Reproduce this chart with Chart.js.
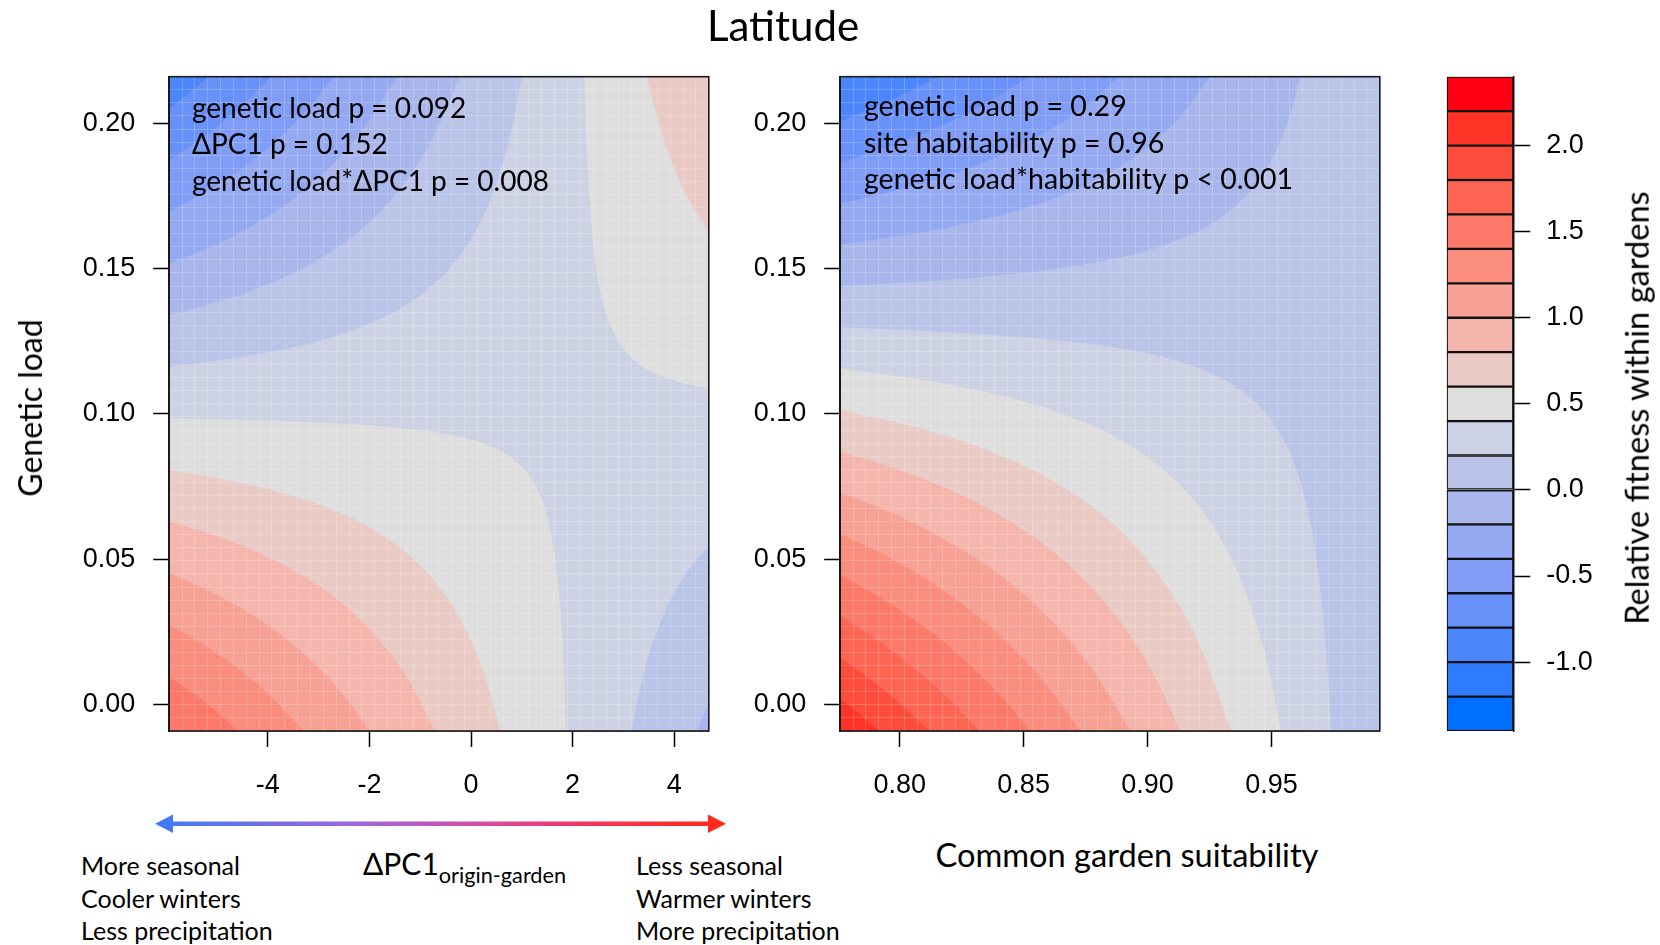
<!DOCTYPE html>
<html>
<head>
<meta charset="utf-8">
<script src="https://cdn.jsdelivr.net/npm/chart.js@4.4.1/dist/chart.umd.min.js"></script>
<style>
  body { margin: 0; background: #fff; }
  #wrap { position: relative; width: 1660px; height: 945px; overflow: hidden; font-family: Lato, "Open Sans", sans-serif; color: #000; }
  canvas { position: absolute; top: 0; }
  .t { position: absolute; white-space: nowrap; line-height: 1; }
  .c { transform: translate(-50%, -50%); }
  .r { transform: translate(-50%, -50%) rotate(-90deg); }
  .note { position: absolute; white-space: nowrap; font-size: 28px; line-height: 36.7px; }
  .side { position: absolute; white-space: nowrap; font-size: 25px; line-height: 32.5px; }
</style>
</head>
<body>
<div id="wrap">
  <canvas id="pcChart" width="740" height="800" style="left:0;width:740px;height:800px"></canvas>
  <canvas id="suitChart" width="700" height="800" style="left:720px;width:700px;height:800px"></canvas>
  <canvas id="barChart" width="240" height="800" style="left:1420px;width:240px;height:800px"></canvas>

  <div class="t c" style="left:783px;top:25px;font-size:42px">Latitude</div>
  <div class="t r" style="left:30px;top:408px;font-size:32px">Genetic load</div>
  <div class="t r" style="left:1637px;top:408px;font-size:32.6px">Relative fitness within gardens</div>
  <div class="t c" style="left:1127px;top:855px;font-size:32.6px">Common garden suitability</div>

  <div class="note" style="left:192px;top:88.6px">genetic load p = 0.092<br>ΔPC1 p = 0.152<br>genetic load*ΔPC1 p = 0.008</div>
  <div class="note" style="left:864px;top:86.8px;font-size:28.5px">genetic load p = 0.29<br>site habitability p = 0.96<br>genetic load*habitability p &lt; 0.001</div>

  <svg style="position:absolute;left:150px;top:810px" width="590" height="30">
    <defs>
      <linearGradient id="arr" gradientUnits="userSpaceOnUse" x1="5" y1="0" x2="576" y2="0">
        <stop offset="0" stop-color="#3f7cf8"/>
        <stop offset="0.35" stop-color="#9b66dc"/>
        <stop offset="0.55" stop-color="#d24fa8"/>
        <stop offset="0.8" stop-color="#fa3050"/>
        <stop offset="1" stop-color="#ff2a14"/>
      </linearGradient>
    </defs>
    <rect x="20" y="11.5" width="541" height="4.5" fill="url(#arr)"/>
    <polygon points="5,13.7 23,4.5 23,23" fill="url(#arr)"/>
    <polygon points="576,13.7 558,4.5 558,23" fill="url(#arr)"/>
  </svg>

  <div class="t" style="left:363px;top:848px;font-size:30px">ΔPC1<span style="font-size:21.7px;position:relative;top:8px">origin-garden</span></div>
  <div class="side" style="left:81px;top:849px">More seasonal<br>Cooler winters<br>Less precipitation</div>
  <div class="side" style="left:636px;top:849px">Less seasonal<br>Warmer winters<br>More precipitation</div>
</div>

<script>
// axis ranges of the two panels and the colour key
const loadRange = [-0.0092, 0.2161];
const pcRange = [-5.94, 4.68];
const suitRange = [0.776, 0.9937];

// tick labels
const pcTicks = [-4, -2, 0, 2, 4];
const suitTicks = [0.80, 0.85, 0.90, 0.95];
const loadTicks = [0, 0.05, 0.10, 0.15, 0.20];
const fitTicks = [-1.0, -0.5, 0.0, 0.5, 1.0, 1.5, 2.0];

// fitness levels of the colour key (19 bins of 0.2)
const levelBreaks = [-1.4, -1.2, -1.0, -0.8, -0.6, -0.4, -0.2, 0.0, 0.2, 0.4, 0.6,
                     0.8, 1.0, 1.2, 1.4, 1.6, 1.8, 2.0, 2.2, 2.4];
const binColors = ['#006FFF', '#2E7BFF', '#4C86FD', '#6891FA', '#7F9CF6', '#94A9F1',
                   '#A8B6EC', '#BAC4E8', '#CCD1E4', '#DEDEDE', '#EACAC5', '#F3B5AC',
                   '#F7A195', '#FA8D7E', '#FC7868', '#FD6452', '#FE4C3C', '#FF3427', '#FF0012'];

// left panel: contour lines [dPC1, genetic load]
const pcBL04 = [[-5.94,0.0985],[-4.5,0.0979],[-3,0.097],[-1.5,0.0953],[-0.5,0.0931],[0.3,0.0895],[0.9,0.0835],[1.3,0.0742],[1.55,0.0608],[1.7,0.0438],[1.78,0.0271],[1.83,0.0106],[1.87,-0.0092]];
const pcBL06 = [[-5.94,0.0807],[-4.5,0.0762],[-3,0.0689],[-2,0.061],[-1,0.0479],[-0.4,0.0349],[0,0.022],[0.3,0.0085],[0.58,-0.0092]];
const pcBL08 = [[-5.94,0.0629],[-5,0.0579],[-4,0.0507],[-3,0.0408],[-2.3,0.0311],[-1.7,0.0199],[-1.2,0.0075],[-0.71,-0.0092]];
const pcBL10 = [[-5.94,0.0452],[-5,0.0377],[-4.2,0.0296],[-3.5,0.0206],[-2.9,0.0109],[-2.4,0.0008],[-2.0,-0.0092]];
const pcBL12 = [[-5.94,0.0274],[-5.2,0.0199],[-4.6,0.0126],[-4,0.0038],[-3.29,-0.0092]];
const pcBL14 = [[-5.94,0.0096],[-5.4,0.003],[-5.0,-0.0026],[-4.57,-0.0092]];
const pcTR04 = [[2.23,0.2161],[2.26,0.1993],[2.3,0.1833],[2.4,0.1595],[2.55,0.1418],[2.75,0.1301],[3,0.1224],[3.4,0.116],[3.9,0.112],[4.68,0.1087]];
const pcTR06 = [[3.46,0.2161],[3.7,0.1996],[4,0.1844],[4.3,0.1733],[4.68,0.1628]];
const pcTL02 = [[-5.94,0.1162],[-4,0.1211],[-2.5,0.1278],[-1.2,0.1384],[-0.4,0.1506],[0.1,0.1633],[0.45,0.1769],[0.7,0.191],[0.85,0.2022],[1.0,0.2161]];
const pcTL00 = [[-5.94,0.134],[-4.5,0.1413],[-3.2,0.1512],[-2.2,0.163],[-1.5,0.1752],[-0.9,0.1903],[-0.5,0.2043],[-0.24,0.2161]];
const pcTLm02 = [[-5.94,0.1518],[-5,0.1585],[-4,0.168],[-3.2,0.1783],[-2.6,0.1882],[-2,0.2011],[-1.47,0.2161]];
const pcTLm04 = [[-5.94,0.1695],[-5,0.1787],[-4.2,0.1886],[-3.5,0.1997],[-3.1,0.2073],[-2.71,0.2161]];
const pcTLm06 = [[-5.94,0.1873],[-5.2,0.1961],[-4.6,0.2047],[-3.94,0.2161]];
const pcTLm08 = [[-5.94,0.2051],[-5.55,0.2104],[-5.17,0.2161]];
const pcBR02 = [[3.16,-0.0092],[3.3,0.0033],[3.5,0.0168],[3.75,0.0292],[4.05,0.04],[4.35,0.048],[4.68,0.0546]];
const pcBR00 = [[4.45,-0.0092],[4.55,-0.0047],[4.68,0.0005]];

// right panel: contour lines [suitability, genetic load]
const suBL02 = [[0.776,0.1298],[0.83,0.1276],[0.88,0.1237],[0.91,0.1187],[0.935,0.1097],[0.95,0.0977],[0.96,0.0809],[0.966,0.0611],[0.97,0.0376],[0.972,0.0192],[0.9741,-0.0092]];
const suBL04 = [[0.776,0.1156],[0.82,0.1101],[0.86,0.1017],[0.89,0.0907],[0.91,0.0782],[0.925,0.0633],[0.937,0.0442],[0.945,0.0248],[0.95,0.0078],[0.9538,-0.0092]];
const suBL06 = [[0.776,0.1013],[0.81,0.0946],[0.84,0.0859],[0.865,0.0753],[0.885,0.0629],[0.9,0.0497],[0.912,0.0351],[0.922,0.0185],[0.9336,-0.0092]];
const suBL08 = [[0.776,0.0871],[0.8,0.0807],[0.83,0.0699],[0.855,0.057],[0.875,0.0424],[0.89,0.0273],[0.902,0.0111],[0.9133,-0.0092]];
const suBL10 = [[0.776,0.0729],[0.8,0.0647],[0.825,0.0534],[0.845,0.0414],[0.862,0.0281],[0.878,0.0117],[0.8931,-0.0092]];
const suBL12 = [[0.776,0.0587],[0.795,0.0509],[0.815,0.0408],[0.833,0.0293],[0.85,0.0157],[0.862,0.0038],[0.8728,-0.0092]];
const suBL14 = [[0.776,0.0445],[0.795,0.0352],[0.812,0.0252],[0.828,0.0138],[0.842,0.0017],[0.8525,-0.0092]];
const suBL16 = [[0.776,0.0303],[0.793,0.0208],[0.808,0.0109],[0.822,0.0001],[0.8323,-0.0092]];
const suBL18 = [[0.776,0.0161],[0.79,0.0074],[0.801,-0.0004],[0.812,-0.0092]];
const suBL20 = [[0.776,0.0019],[0.784,-0.0035],[0.7918,-0.0092]];
const suTL00 = [[0.776,0.144],[0.83,0.1469],[0.88,0.1523],[0.91,0.1591],[0.93,0.1679],[0.943,0.1784],[0.952,0.1909],[0.957,0.2016],[0.9616,0.2161]];
const suTLm02 = [[0.776,0.1582],[0.82,0.1643],[0.86,0.1735],[0.885,0.1832],[0.903,0.1939],[0.915,0.2042],[0.9251,0.2161]];
const suTLm04 = [[0.776,0.1724],[0.81,0.1796],[0.84,0.1888],[0.862,0.1985],[0.876,0.2067],[0.8885,0.2161]];
const suTLm06 = [[0.776,0.1866],[0.8,0.1933],[0.82,0.2004],[0.838,0.2084],[0.8519,0.2161]];
const suTLm08 = [[0.776,0.2008],[0.795,0.2074],[0.8153,0.2161]];

// which level each line is and towards which corner the values move away from the saddle
const pcContours = [
    {level: 0.4, corner: 'bl', pts: pcBL04}, {level: 0.6, corner: 'bl', pts: pcBL06},
    {level: 0.8, corner: 'bl', pts: pcBL08}, {level: 1.0, corner: 'bl', pts: pcBL10},
    {level: 1.2, corner: 'bl', pts: pcBL12}, {level: 1.4, corner: 'bl', pts: pcBL14},
    {level: 0.4, corner: 'tr', pts: pcTR04}, {level: 0.6, corner: 'tr', pts: pcTR06},
    {level: 0.2, corner: 'tl', pts: pcTL02}, {level: 0.0, corner: 'tl', pts: pcTL00},
    {level: -0.2, corner: 'tl', pts: pcTLm02}, {level: -0.4, corner: 'tl', pts: pcTLm04},
    {level: -0.6, corner: 'tl', pts: pcTLm06}, {level: -0.8, corner: 'tl', pts: pcTLm08},
    {level: 0.2, corner: 'br', pts: pcBR02}, {level: 0.0, corner: 'br', pts: pcBR00}
];
const suContours = [
    {level: 0.2, corner: 'bl', pts: suBL02}, {level: 0.4, corner: 'bl', pts: suBL04},
    {level: 0.6, corner: 'bl', pts: suBL06}, {level: 0.8, corner: 'bl', pts: suBL08},
    {level: 1.0, corner: 'bl', pts: suBL10}, {level: 1.2, corner: 'bl', pts: suBL12},
    {level: 1.4, corner: 'bl', pts: suBL14}, {level: 1.6, corner: 'bl', pts: suBL16},
    {level: 1.8, corner: 'bl', pts: suBL18}, {level: 2.0, corner: 'bl', pts: suBL20},
    {level: 0.0, corner: 'tl', pts: suTL00}, {level: -0.2, corner: 'tl', pts: suTLm02},
    {level: -0.4, corner: 'tl', pts: suTLm04}, {level: -0.6, corner: 'tl', pts: suTLm06},
    {level: -0.8, corner: 'tl', pts: suTLm08}
];

Chart.defaults.font.family = '"Liberation Sans", Arial, sans-serif';
Chart.defaults.color = '#000';

const tickFont = { size: 27 };

// black frame round the plotting region
const boxPlugin = {
    id: 'box',
    afterDraw(chart) {
        const { ctx, chartArea: a } = chart;
        ctx.save();
        ctx.strokeStyle = '#1a1a1a';
        ctx.lineWidth = 1.6;
        ctx.strokeRect(a.left, a.top, a.right - a.left, a.bottom - a.top);
        ctx.restore();
    }
};

function binIndex(level) {
    return Math.round((level - levelBreaks[0]) / 0.2);
}

function contourDatasets(list, bgLevel, xr) {
    const sets = [{
        // plain background = the band holding the saddle point
        data: [{ x: xr[0], y: loadRange[1] }, { x: xr[1], y: loadRange[1] }],
        fill: 'start',
        backgroundColor: binColors[binIndex(bgLevel)],
        order: 50
    }];
    list.forEach(c => {
        const rising = c.corner === 'bl' || c.corner === 'tr';
        const idx = binIndex(c.level) - (rising ? 0 : 1);
        sets.push({
            data: c.pts.map(p => ({ x: p[0], y: p[1] })),
            fill: (c.corner === 'bl' || c.corner === 'br') ? 'start' : 'end',
            backgroundColor: binColors[idx],
            order: 40 - Math.round(Math.abs(c.level - bgLevel - 0.1) * 10)
        });
    });
    return sets;
}

function denseTicks(scale, n) {
    const out = [];
    for (let i = 1; i < n; i++) out.push({ value: scale.min + (scale.max - scale.min) * i / n });
    scale.ticks = out;
}

function panelChart(id, contours, bgLevel, xr, xticks, xfmt, yWidth, padRight) {
    return new Chart(document.getElementById(id), {
        type: 'line',
        data: { datasets: contourDatasets(contours, bgLevel, xr) },
        options: {
            responsive: false,
            animation: false,
            events: [],
            devicePixelRatio: 1,
            layout: { padding: { top: 76.7, right: padRight, bottom: 0, left: 0 } },
            elements: {
                line: { borderWidth: 0, borderColor: 'transparent', cubicInterpolationMode: 'monotone' },
                point: { radius: 0 }
            },
            plugins: { legend: { display: false }, tooltip: { enabled: false } },
            scales: {
                x: {
                    type: 'linear', min: xr[0], max: xr[1],
                    afterBuildTicks: s => { s.ticks = xticks.map(v => ({ value: v })); },
                    afterFit: s => { s.height = 69; },
                    ticks: { font: tickFont, padding: 22, maxRotation: 0, autoSkip: false, callback: xfmt },
                    grid: { drawOnChartArea: false, tickLength: 16, tickWidth: 1.5, tickColor: '#000' },
                    border: { display: true, color: '#1a1a1a', width: 1.5 }
                },
                y: {
                    type: 'linear', min: loadRange[0], max: loadRange[1],
                    afterBuildTicks: s => { s.ticks = loadTicks.map(v => ({ value: v })); },
                    afterFit: s => { s.width = yWidth; },
                    ticks: { font: tickFont, padding: 18, autoSkip: false, callback: v => v.toFixed(2) },
                    grid: { drawOnChartArea: false, tickLength: 16, tickWidth: 1.5, tickColor: '#000' },
                    border: { display: true, color: '#1a1a1a', width: 1.5 }
                },
                // faint mesh seen over the filled contours
                gx: {
                    type: 'linear', position: 'bottom', min: xr[0], max: xr[1],
                    afterBuildTicks: s => denseTicks(s, 42),
                    afterFit: s => { s.height = 0; },
                    ticks: { display: false },
                    grid: { drawTicks: false, color: 'rgba(255,255,255,0.2)', lineWidth: 1, z: 1 },
                    border: { display: false }
                },
                gy: {
                    type: 'linear', position: 'left', min: loadRange[0], max: loadRange[1],
                    afterBuildTicks: s => denseTicks(s, 50),
                    afterFit: s => { s.width = 0; },
                    ticks: { display: false },
                    grid: { drawTicks: false, color: 'rgba(255,255,255,0.2)', lineWidth: 1, z: 1 },
                    border: { display: false }
                }
            }
        },
        plugins: [boxPlugin]
    });
}

panelChart('pcChart', pcContours, 0.2, pcRange, pcTicks, v => String(v), 169.2, 31.2);
panelChart('suitChart', suContours, 0.0, suitRange, suitTicks, v => v.toFixed(2), 120.2, 40.2);

// colour key: one floating bar per level bin
new Chart(document.getElementById('barChart'), {
    type: 'bar',
    data: {
        labels: [''],
        datasets: binColors.map((c, i) => ({
            data: [[levelBreaks[i], levelBreaks[i + 1]]],
            backgroundColor: c,
            borderColor: '#111',
            borderWidth: 1.5,
            borderSkipped: false,
            barPercentage: 1,
            categoryPercentage: 1,
            grouped: false
        }))
    },
    options: {
        responsive: false,
        animation: false,
        events: [],
        devicePixelRatio: 1,
        layout: { padding: { top: 76.7, right: 0, bottom: 69, left: 26.7 } },
        plugins: { legend: { display: false }, tooltip: { enabled: false } },
        scales: {
            x: { display: false },
            y: {
                position: 'right', min: levelBreaks[0], max: levelBreaks[levelBreaks.length - 1],
                afterBuildTicks: s => { s.ticks = fitTicks.map(v => ({ value: v })); },
                afterFit: s => { s.width = 146.7; },
                ticks: { font: tickFont, padding: 16, autoSkip: false, callback: v => v.toFixed(1) },
                grid: { drawOnChartArea: false, tickLength: 17, tickWidth: 1.5, tickColor: '#000' },
                border: { display: true, color: '#111', width: 1.5 }
            }
        }
    }
});
</script>
</body>
</html>
